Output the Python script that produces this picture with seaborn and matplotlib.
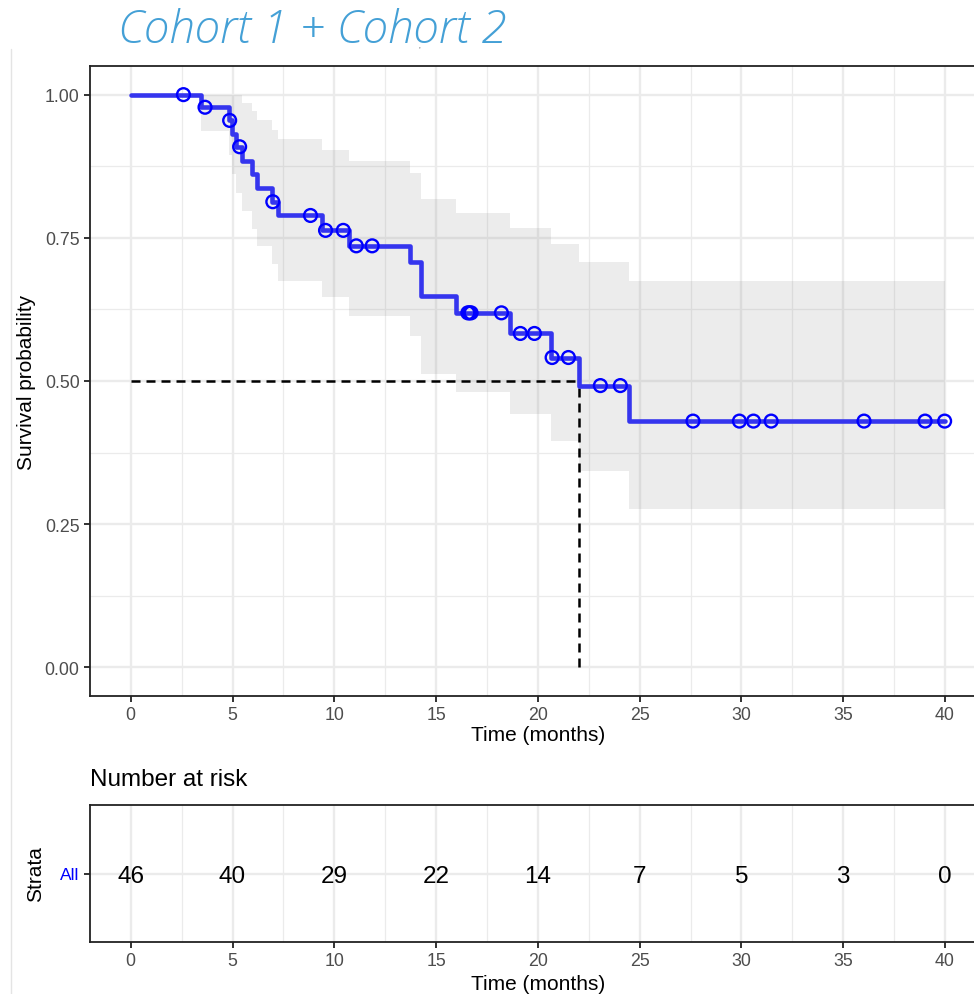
import numpy as np
import pandas as pd
import matplotlib
matplotlib.use("Agg")
import matplotlib.pyplot as plt
from matplotlib.lines import Line2D
from matplotlib.ticker import MultipleLocator
import seaborn as sns

# ---------------- data ----------------
title = "Cohort 1 + Cohort 2"
step_time = [0.0, 3.44, 4.83, 4.97, 5.15, 5.48, 5.97, 6.22, 6.95, 7.25, 9.41,
             10.72, 13.74, 14.27, 16.0, 18.65, 20.65, 22.04, 24.5, 40.0]
surv = [1.0, 0.978, 0.955, 0.932, 0.909, 0.885, 0.861, 0.837, 0.813, 0.789, 0.763,
        0.736, 0.707, 0.648, 0.619, 0.583, 0.541, 0.492, 0.430, 0.430]
upper = [1.0, 1.0, 1.0, 1.0, 1.0, 0.986, 0.971, 0.956, 0.939, 0.922, 0.904,
         0.884, 0.864, 0.817, 0.794, 0.768, 0.740, 0.707, 0.675, 0.675]
lower = [1.0, 0.936, 0.895, 0.861, 0.829, 0.797, 0.765, 0.735, 0.705, 0.675, 0.646,
         0.614, 0.579, 0.512, 0.480, 0.442, 0.396, 0.342, 0.276, 0.276]
censor_time = [2.59, 3.65, 4.86, 5.35, 6.98, 8.83, 9.57, 10.44, 11.08, 11.86,
               16.56, 16.64, 16.72, 18.21, 19.14, 19.83, 20.70, 21.5, 23.07, 24.05,
               27.62, 29.9, 30.59, 31.46, 36.02, 39.02, 39.98]
median_time = 22.04
median_surv = 0.5
risk_time = [0, 5, 10, 15, 20, 25, 30, 35, 40]
risk_n = [46, 40, 29, 22, 14, 7, 5, 3, 0]
strata = ["All"]
x_ticks = [0, 5, 10, 15, 20, 25, 30, 35, 40]
y_ticks = [0.0, 0.25, 0.5, 0.75, 1.0]
y_tick_labels = ["0.00", "0.25", "0.50", "0.75", "1.00"]

curve_df = pd.DataFrame({"time": step_time, "surv": surv, "lower": lower, "upper": upper})
idx = np.searchsorted(np.array(step_time), np.array(censor_time), side="right") - 1
cens_df = pd.DataFrame({"time": censor_time, "surv": np.array(surv)[idx]})

# ---------------- style ----------------
sns.set_theme(style="white")
plt.rcParams["font.family"] = ["Liberation Sans", "DejaVu Sans"]

W, H = 974, 995
fig = plt.figure(figsize=(W / 100, H / 100), dpi=100)

def fx(px):
    return px / W

def fy(py):
    return 1 - py / H

x_right = 130 + 42 * 20.375
tick_col = "#4D4D4D"
grid_col = "#EBEBEB"

def style_axes(ax):
    ax.set_xlim(-2, 42)
    ax.set_xticks(x_ticks)
    ax.xaxis.set_minor_locator(MultipleLocator(2.5))
    ax.grid(which="major", color=grid_col, lw=1.7, zorder=0)
    ax.grid(which="minor", color=grid_col, lw=0.9, zorder=0)
    ax.set_axisbelow(True)
    ax.tick_params(which="major", direction="out", length=4.5, width=1.3,
                   color="#222222", labelcolor=tick_col, labelsize=12.8, pad=3,
                   bottom=True, left=True)
    ax.tick_params(which="minor", length=0)
    for s in ax.spines.values():
        s.set_color("#222222")
        s.set_linewidth(1.3)

# ---------------- main KM plot ----------------
ax = fig.add_axes([fx(90), fy(697), fx(x_right) - fx(90), fy(67) - fy(697)])
style_axes(ax)
ax.set_ylim(-0.05, 1.05)
ax.set_yticks(y_ticks)
ax.set_yticklabels(y_tick_labels)
ax.yaxis.set_minor_locator(MultipleLocator(0.125))

ax.fill_between(curve_df["time"], curve_df["lower"], curve_df["upper"], step="post",
                color="#808080", alpha=0.15, linewidth=0, zorder=1)

sns.lineplot(data=curve_df, x="time", y="surv", drawstyle="steps-post", estimator=None,
             sort=False, color="#3535EE", linewidth=3.3, ax=ax, zorder=3)

ax.plot([0, median_time], [median_surv, median_surv], color="black", lw=1.8,
        dashes=(3.6, 2.4), zorder=2)
ax.plot([median_time, median_time], [0, median_surv], color="black", lw=1.8,
        dashes=(3.6, 2.4), zorder=2)

sns.scatterplot(data=cens_df, x="time", y="surv", marker="o", s=85,
                facecolor="none", edgecolor="#0000FF", linewidth=1.7, ax=ax, zorder=4)

ax.set_xlabel("Time (months)", fontsize=15, color="black", labelpad=1)
ax.set_ylabel("Survival probability", fontsize=15, color="black", labelpad=6)

# ---------------- risk table ----------------
ax2 = fig.add_axes([fx(90), fy(943), fx(x_right) - fx(90), fy(806) - fy(943)])
style_axes(ax2)
ax2.set_ylim(-0.5, 0.5)
ax2.set_yticks([0])
ax2.set_yticklabels(strata)
ax2.get_yticklabels()[0].set_color("#0000FF")
ax2.tick_params(axis="y", labelsize=12.5)
for t, n in zip(risk_time, risk_n):
    ax2.text(t, -0.02, str(n), ha="center", va="center", fontsize=17.5, color="black")
ax2.set_xlabel("Time (months)", fontsize=15, color="black", labelpad=3)
ax2.set_ylabel("Strata", fontsize=15, color="black", labelpad=11)

fig.text(fx(90), fy(780), "Number at risk", fontsize=17.5, ha="left", va="center",
         color="black")

# ---------------- title & screenshot artefacts ----------------
fig.text(fx(118), fy(31), title, fontsize=33, ha="left", va="center",
         color="#44A0D6", style="italic", fontweight="light", family="Open Sans")
fig.add_artist(Line2D([fx(11), fx(11)], [0, fy(50)], color="#E4E4E4", lw=1))
fig.text(fx(420), fy(52), "\u02bc", fontsize=6, color="#555555", ha="center", va="center")

fig.savefig("out.png", dpi=100)
